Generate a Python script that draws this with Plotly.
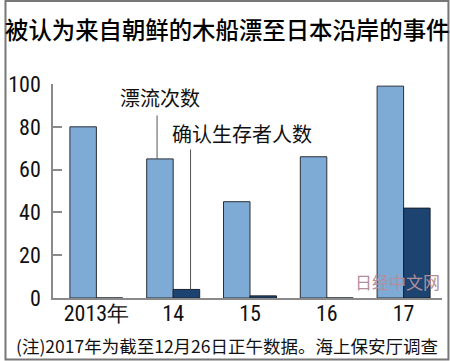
import plotly.graph_objects as go

categories = ["2013年", "14", "15", "16", "17"]
drift_counts = [80, 65, 45, 66, 99]
survivors = [0, 4, 1, 0, 42]
y_ticks = [0, 20, 40, 60, 80, 100]

title_text = "被认为来自朝鲜的木船漂至日本沿岸的事件"
label_drift = "漂流次数"
label_surv = "确认生存者人数"
note_text = "(注)2017年为截至12月26日正午数据。海上保安厅调查"
watermark = "日经中文网"

W, H = 450, 361
ML, MR, MT, MB = 49, 8, 84, 63
PW, PH = W - ML - MR, H - MT - MB

def px_x(px):
    return (px - ML) / PW

def px_y(py):
    return (H - MB - py) / PH

CJK = "Noto Sans CJK SC"
NUM = "Liberation Sans Narrow, Arial Narrow, Roboto Condensed, Liberation Sans"

fig = go.Figure()
fig.add_trace(go.Bar(x=categories, y=drift_counts, name=label_drift,
                     marker=dict(color="#7eaad6", line=dict(color="#2b2f36", width=1))))
fig.add_trace(go.Bar(x=categories, y=survivors, name=label_surv,
                     marker=dict(color="#1d4370", line=dict(color="#1a2230", width=1))))

fig.update_layout(
    width=W, height=H,
    margin=dict(l=ML, r=MR, t=MT, b=MB, pad=0),
    paper_bgcolor="white", plot_bgcolor="white",
    barmode="group", bargap=0.31, bargroupgap=0,
    showlegend=False,
    font=dict(family=CJK, color="#111111"),
)
fig.update_xaxes(type="category", range=[-0.565, 4.5], showline=True, linecolor="#8a8a8a",
                 linewidth=1.5, ticks="", showgrid=False, zeroline=False,
                 tickfont=dict(family=NUM, size=22, color="#111111"), ticklabelstandoff=-5)
fig.update_yaxes(range=[0, 100], tickvals=y_ticks, showline=True, linecolor="#8a8a8a",
                 linewidth=1.5, ticks="inside", ticklen=9, tickcolor="#8a8a8a", tickwidth=1.5,
                 showgrid=False, zeroline=False,
                 tickfont=dict(family=NUM, size=22, color="#111111"), ticklabelstandoff=6)

# leader lines
fig.add_shape(type="line", xref="x", yref="y", x0=0.79, x1=0.79, y0=drift_counts[1], y1=85.3,
              line=dict(color="#555555", width=1))
fig.add_shape(type="line", xref="x", yref="y", x0=1.226, x1=1.226, y0=survivors[1], y1=69.4,
              line=dict(color="#555555", width=1))

fig.add_annotation(text=label_drift, xref="x", yref="y", x=0.827, y=93.7, showarrow=False,
                   xanchor="center", yanchor="middle", font=dict(family=CJK, size=20, color="#111111"))
fig.add_annotation(text=label_surv, xref="x", yref="y", x=0.956, y=76.9, showarrow=False,
                   xanchor="left", yanchor="middle", font=dict(family=CJK, size=20, color="#111111"))

# title
fig.add_annotation(text=title_text, xref="paper", yref="paper",
                   x=px_x(225), y=px_y(29), showarrow=False, xanchor="center", yanchor="middle",
                   font=dict(family=CJK, size=23.4, color="#000000", weight=500))
# note
fig.add_annotation(text=note_text, xref="paper", yref="paper",
                   x=px_x(225), y=px_y(345), showarrow=False, xanchor="center", yanchor="middle",
                   font=dict(family=CJK, size=17.5, color="#111111"))
# watermark
fig.add_annotation(text=watermark, xref="paper", yref="paper",
                   x=px_x(397), y=px_y(281), showarrow=False, xanchor="center", yanchor="middle",
                   font=dict(family=CJK, size=17, color="#b48e9a"))

# outer frame
fig.add_shape(type="rect", xref="paper", yref="paper",
              x0=px_x(1), x1=px_x(448.5), y0=px_y(359.5), y1=px_y(1),
              line=dict(color="#777777", width=2), fillcolor="rgba(0,0,0,0)")

fig.write_html("out.html", config={"displayModeBar": False},
               post_script="document.body.style.margin='0px';document.body.style.overflow='hidden';")
